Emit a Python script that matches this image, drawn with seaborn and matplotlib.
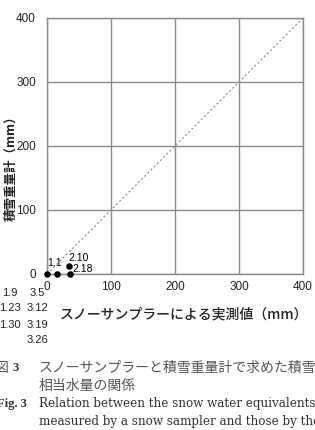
import matplotlib
matplotlib.use("Agg")
import matplotlib.pyplot as plt
import seaborn as sns

# data
obs_x = [0, 15, 36, 35]
obs_y = [0, 0, 0, 13]
point_labels = ["1.1", "2.10", "2.18"]
point_label_pos = [(11, 17), (50, 25), (56, 8)]
line_x = [0, 400]
ticks = [0, 100, 200, 300, 400]
stray_cols = [["1.9", "1.23", "1.30"], ["3.5", "3.12", "3.19", "3.26"]]
xlabel = "スノーサンプラーによる実測値（mm）"
ylabel = "積雪重量計（mm）"
cap_jp1 = "図"
cap_num = "3"
cap_jp2 = "スノーサンプラーと積雪重量計で求めた積雪"
cap_jp3 = "相当水量の関係"
cap_en1 = "Fig. 3"
cap_en2 = "Relation between the snow water equivalents"
cap_en3 = "measured by a snow sampler and those by the"

sns.set_style("white")
plt.rcParams['font.family'] = ['Liberation Sans', 'Noto Sans CJK JP', 'DejaVu Sans']

W, H = 315, 430
fig = plt.figure(figsize=(W / 100, H / 100), dpi=100)
ax = fig.add_axes([47 / W, 1 - 274 / H, 256 / W, 256 / H])

def px(x, y):
    return x / W, 1 - y / H

gray = "#8a8a8a"
sns.lineplot(x=line_x, y=line_x, ax=ax, color=gray, linestyle=(0, (2, 2)), linewidth=0.8)
sns.scatterplot(x=obs_x, y=obs_y, ax=ax, color="black", s=22, linewidth=0, zorder=5, clip_on=False)
for lab, (lx, ly) in zip(point_labels, point_label_pos):
    ax.text(lx, ly, lab, fontsize=7.5, ha="center", va="center", color="black", zorder=6)

ax.set_xlim(0, 400)
ax.set_ylim(0, 400)
ax.set_xticks(ticks)
ax.set_yticks(ticks)
ax.grid(True, color=gray, linewidth=1.0)
for s in ax.spines.values():
    s.set_color(gray)
    s.set_linewidth(1.0)
ax.tick_params(axis="both", length=0, labelsize=8.5, colors="#222222")
ax.tick_params(axis="x", pad=5)
ax.tick_params(axis="y", pad=8)

fig.text(*px(184, 314), xlabel, fontsize=10, ha="center", va="center",
         family=['Noto Sans CJK JP'], fontweight="medium", color="#222222")
fig.text(*px(11, 165), ylabel, fontsize=9, ha="center", va="center", rotation=90,
         family=['Noto Sans CJK JP'], fontweight="bold", color="#222222")

ys = [293, 308, 325, 340]
for i, t in enumerate(stray_cols[0]):
    fig.text(*px(10, ys[i]), t, fontsize=8, ha="center", va="center", color="#222222")
for i, t in enumerate(stray_cols[1]):
    fig.text(*px(37, ys[i]), t, fontsize=8, ha="center", va="center", color="#222222")

jp_kw = dict(fontsize=10, va="center", ha="left", color="#555555", family=['Noto Sans CJK JP'])
fig.text(*px(-5, 368), cap_jp1, **jp_kw)
fig.text(*px(12, 368), cap_num, fontsize=9, va="center", ha="left", color="#333333",
         family=['Liberation Serif'], fontweight="bold")
fig.text(*px(39, 368), cap_jp2, **jp_kw)
fig.text(*px(39, 386), cap_jp3, **jp_kw)
en_kw = dict(fontsize=8.6, va="center", ha="left", color="#333333", family=['DejaVu Serif'])
fig.text(*px(-3, 404), cap_en1, fontsize=9, va="center", ha="left", color="#333333",
         family=['Liberation Serif'], fontweight="bold")
fig.text(*px(39, 404), cap_en2, **en_kw)
fig.text(*px(39, 422), cap_en3, **en_kw)

fig.savefig("out.png", dpi=100)
